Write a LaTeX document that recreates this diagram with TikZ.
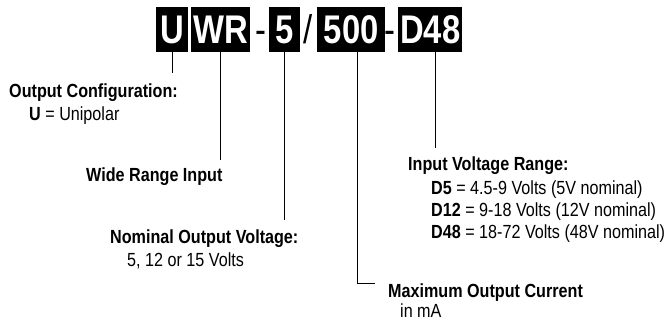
\documentclass[tikz,border=0pt]{standalone}
\usepackage{fontspec}
\setmainfont{Liberation Sans}[FakeStretch=0.85]
\newfontfamily\bigfont{Liberation Sans}[FakeStretch=0.82]
\begin{document}
\begin{tikzpicture}[x=1pt,y=-1pt,
  code/.style={fill=black,text=white,font=\bigfont\bfseries\fontsize{40}{40}\selectfont,inner sep=0pt,minimum height=45pt,anchor=north west},
  sepmark/.style={font=\bigfont\fontsize{40}{40}\selectfont,anchor=base,inner sep=0pt},
  lbl/.style={anchor=base west,inner sep=0pt,font=\fontsize{19}{22}\selectfont},
  lead/.style={line width=1pt}]
\useasboundingbox (0,0) rectangle (665,321);
% code boxes
\node[code,minimum width=32pt] (u) at (156,7) {U};
\node[code,minimum width=59pt] (wr) at (191,7) {WR};
\node[sepmark] (d1) at (260.5,44) {-};
\node[code,minimum width=31pt] (v) at (269,7) {5};
\node[sepmark] (sl) at (308.5,44) {/};
\node[code,minimum width=68pt] (i) at (317,7) {500};
\node[sepmark] (d2) at (390,44) {-};
\node[code,minimum width=64pt] (d) at (398,7) {D48};
% labels
\node[lbl] (oc) at (9,98) {\textbf{Output Configuration:}};
\node[lbl] (ocu) at (29,121) {\textbf{U} = Unipolar};
\node[lbl] (wri) at (86,182) {\textbf{Wide Range Input}};
\node[lbl] (nov) at (110,243) {\textbf{Nominal Output Voltage:}};
\node[lbl] (novv) at (127,266) {5, 12 or 15 Volts};
\node[lbl] (moc) at (388,297) {\textbf{Maximum Output Current}};
\node[lbl] (mocu) at (400,317.5) {in mA};
\node[lbl] (ivr) at (408,171) {\textbf{Input Voltage Range:}};
\node[lbl] (dv5) at (431,194) {\textbf{D5} = 4.5-9 Volts (5V nominal)};
\node[lbl] (dv12) at (431,216) {\textbf{D12} = 9-18 Volts (12V nominal)};
\node[lbl] (dv48) at (431,238) {\textbf{D48} = 18-72 Volts (48V nominal)};
% leader ends
\coordinate (ue) at (172.5,73);
\coordinate (wre) at (220.5,160);
\coordinate (ve) at (284,220);
\coordinate (ic) at (357,283);
\coordinate (ie) at (375,283);
\coordinate (de) at (435,148);
% leaders
\draw[lead] (u.south -| ue) -- (ue);
\draw[lead] (wr.south -| wre) -- (wre);
\draw[lead] (v.south -| ve) -- (ve);
\draw[lead] (i.south -| ic) -- (ic) -- (ie);
\draw[lead] (d.south -| de) -- (de);
\end{tikzpicture}
\end{document}
